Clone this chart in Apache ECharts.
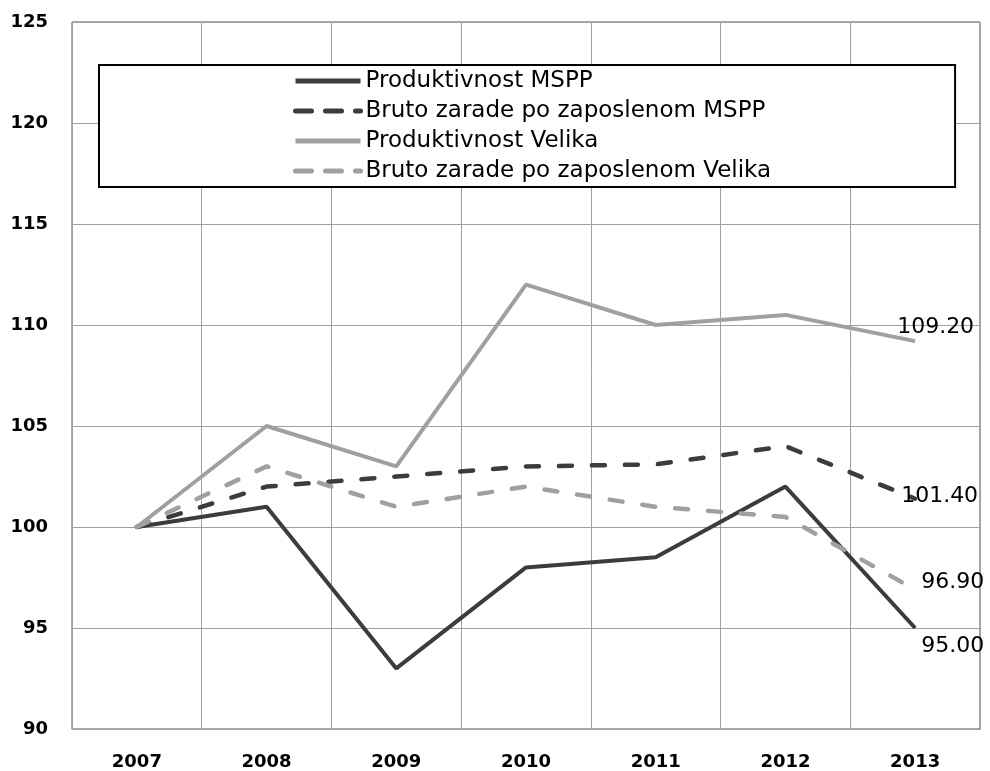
<!DOCTYPE html>
<html><head><meta charset="utf-8">
<script src="https://cdn.jsdelivr.net/npm/echarts@6/dist/echarts.min.js"></script>
<style>html,body{margin:0;padding:0;background:#fff}#c{width:990px;height:771px}</style>
</head><body><div id="c"></div>
<script>
const years = ['2007','2008','2009','2010','2011','2012','2013'];
const seriesNames = ['Produktivnost MSPP','Bruto zarade po zaposlenom MSPP','Produktivnost Velika','Bruto zarade po zaposlenom Velika'];
const prodMSPP = [100, 101, 93, 98, 98.5, 102, 95];
const brutoMSPP = [100, 102, 102.5, 103, 103.1, 104, 101.4];
const prodVelika = [100, 105, 103, 112, 110, 110.5, 109.2];
const brutoVelika = [100, 103, 101, 102, 101, 100.5, 96.9];
const yTicks = {min: 90, max: 125, interval: 5};

const dark = '#3c3c3c', light = '#a0a0a0';
const font = '"DejaVu Sans", sans-serif';
const dashPattern = [13, 20];
function endLbl(offset){
  return {show:true, formatter: p => Number(p.value).toFixed(2), color:'#000',
    fontFamily:font, fontSize:22, offset: offset, distance: 0};
}
function mk(name, data, color, dashed, offset){
  return {name, type:'line', data, symbol:'none', smooth:false,
    lineStyle:{color, width: dashed ? 4.5 : 4, type: dashed ? dashPattern : 'solid', cap: dashed ? 'round' : 'butt'},
    itemStyle:{color},
    endLabel: endLbl(offset), z: dashed ? 3 : 2};
}
const chart = echarts.init(document.getElementById('c'));
chart.setOption({
  animation:false,
  grid:{left:72, right:10, top:22, bottom:42, show:true, borderColor:'#555', borderWidth:1, backgroundColor:'transparent'},
  legend:{
    data: seriesNames.map((n, i) => ({name: n,
      lineStyle: i % 2 ? {type: [16, 14], cap: 'round', width: 5} : {width: 5}})),
    orient:'vertical', left:99, top:65,
    padding:[4, 184, 4, 194], itemGap:6, itemWidth:65, itemHeight:24,
    backgroundColor:'#fff', borderColor:'#000', borderWidth:2,
    itemStyle:{opacity:0},
    lineStyle:{width:5},
    textStyle:{fontFamily:font, fontSize:23, lineHeight:24, color:'#000'}
  },
  xAxis:{type:'category', data: years, boundaryGap:true,
    axisLine:{show:true, lineStyle:{color:'#a0a0a0', width:1}}, axisTick:{show:false},
    splitLine:{show:true, lineStyle:{color:'#a0a0a0', width:1}},
    axisLabel:{fontFamily:font, fontSize:18, fontWeight:'bold', color:'#000', margin:24}},
  yAxis:{type:'value', min:yTicks.min, max:yTicks.max, interval:yTicks.interval,
    axisLine:{show:true, lineStyle:{color:'#a0a0a0'}}, axisTick:{show:false},
    splitLine:{show:true, lineStyle:{color:'#a0a0a0', width:1}},
    axisLabel:{fontFamily:font, fontSize:18, fontWeight:'bold', color:'#000', margin:24}},
  series:[
    mk(seriesNames[0], prodMSPP, dark, false, [6, 18]),
    mk(seriesNames[1], brutoMSPP, dark, true, [-14, -2]),
    mk(seriesNames[2], prodVelika, light, false, [-18, -14]),
    mk(seriesNames[3], brutoVelika, light, true, [6, -7])
  ]
});
</script></body></html>
